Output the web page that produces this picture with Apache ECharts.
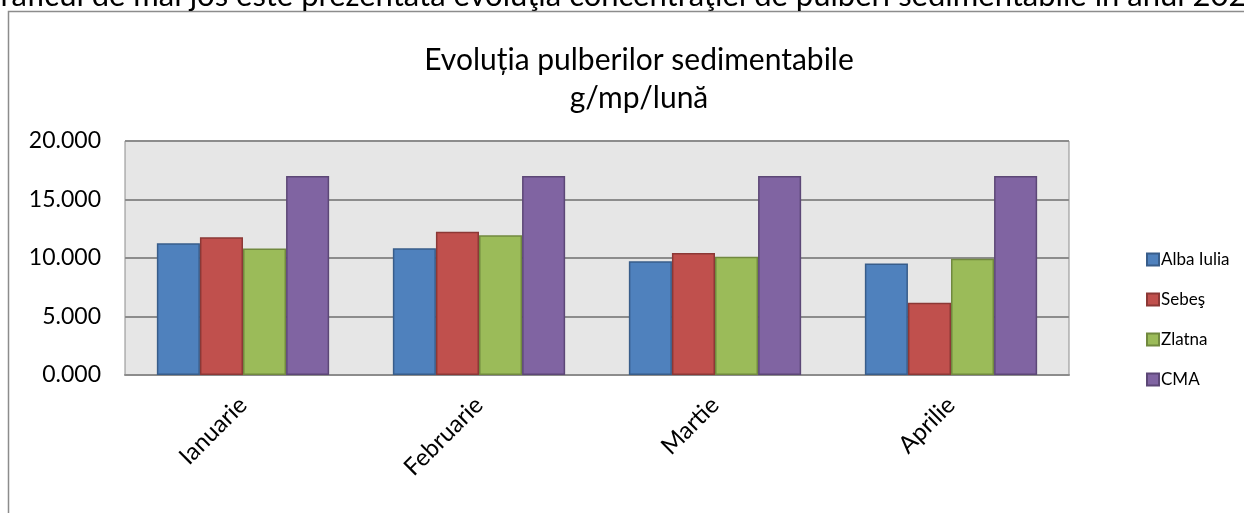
<!DOCTYPE html>
<html>
<head>
<meta charset="utf-8">
<script src="https://cdn.jsdelivr.net/npm/echarts@6/dist/echarts.min.js"></script>
<style>html,body{margin:0;padding:0;background:#fff;}#c{width:1244px;height:513px;}</style>
</head>
<body>
<div id="c"></div>
<script>
const categories = ['Ianuarie', 'Februarie', 'Martie', 'Aprilie'];
const albaIulia = [11.27, 10.84, 9.73, 9.53];
const sebes = [11.78, 12.24, 10.42, 6.17];
const zlatna = [10.81, 11.95, 10.10, 9.93];
const cma = [17.0, 17.0, 17.0, 17.0];
const seriesNames = ['Alba Iulia', 'Sebeş', 'Zlatna', 'CMA'];
const yTicks = [0, 5, 10, 15, 20];

const FONT = 'Lato, "Open Sans", sans-serif';
const colors = ['#4f81bd', '#c0504d', '#9bbb59', '#8064a2'];
const borders = ['#385d8a', '#8c3836', '#71893f', '#5c4776'];
const dataSets = [albaIulia, sebes, zlatna, cma];

const chart = echarts.init(document.getElementById('c'), null, {renderer: 'canvas'});
chart.setOption({
  animation: false,
  backgroundColor: '#fff',
  textStyle: {fontFamily: FONT},
  graphic: [
    {type: 'rect', shape: {x: 8.5, y: 11.5, width: 1400, height: 700}, style: {fill: 'none', stroke: '#8c8c8c', lineWidth: 1.5}, silent: true, z: -10},
    {type: 'text', x: -22, y: 11, style: {text: 'Graficul de mai jos este prezentată evoluţia concentraţiei de pulberi sedimentabile în anul 2021', fontSize: 31, fontFamily: FONT, fill: '#000', verticalAlign: 'bottom'}}
  ],
  title: {
    text: 'Evoluția pulberilor sedimentabile\ng/mp/lună',
    left: 634, top: 36, textAlign: 'center',
    textStyle: {fontSize: 30, fontWeight: 'normal', color: '#000', fontFamily: FONT, lineHeight: 38}
  },
  legend: {
    orient: 'vertical', left: 1141, top: 246,
    itemWidth: 12, itemHeight: 12, itemGap: 23,
    icon: 'rect',
    textStyle: {fontSize: 17, color: '#000', fontFamily: FONT, padding: [0, 0, 0, -3]},
    data: seriesNames
  },
  grid: {left: 125, top: 141, right: 175, bottom: 138, show: true, backgroundColor: '#e6e6e6', borderColor: '#8c8c8c', borderWidth: 1},
  xAxis: {
    type: 'category', data: categories,
    axisLine: {show: true, lineStyle: {color: '#8c8c8c', width: 2}},
    axisTick: {show: false},
    axisLabel: {rotate: 45, fontSize: 24, color: '#000', fontFamily: FONT, margin: 26}
  },
  yAxis: {
    type: 'value', min: yTicks[0], max: yTicks[yTicks.length - 1], interval: 5,
    axisLine: {show: false}, axisTick: {show: false},
    splitLine: {lineStyle: {color: '#8c8c8c', width: 2}},
    axisLabel: {fontSize: 23, color: '#000', fontFamily: FONT, margin: 24, formatter: v => v.toFixed(3)}
  },
  series: seriesNames.map((n, i) => ({
    name: n, type: 'bar', data: dataSets[i],
    barGap: '0%', barCategoryGap: '27%',
    itemStyle: {color: colors[i], borderColor: borders[i], borderWidth: 1.5}
  }))
});
</script>
</body>
</html>
